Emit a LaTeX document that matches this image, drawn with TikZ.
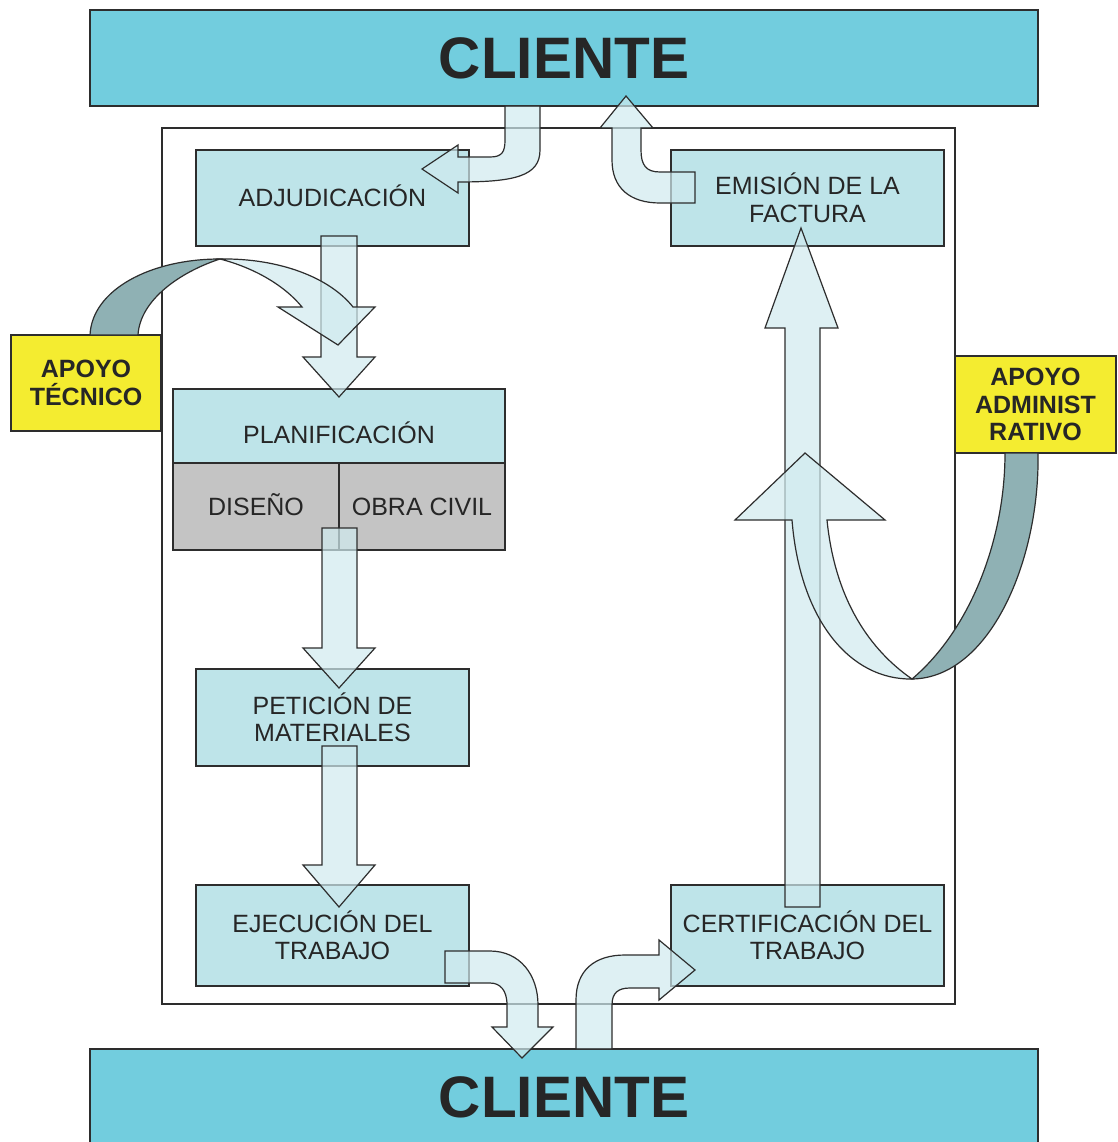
\documentclass[tikz,border=0pt]{standalone}
\usepackage{fontspec}
\setmainfont{Liberation Sans}
\definecolor{clientblue}{RGB}{114,205,222}
\definecolor{boxteal}{RGB}{190,228,233}
\definecolor{greybox}{RGB}{196,196,196}
\definecolor{yellowbox}{RGB}{244,236,48}
\definecolor{arrowfill}{RGB}{208,235,239}
\definecolor{ribbon}{RGB}{143,177,180}
\definecolor{edge}{RGB}{45,45,45}
\definecolor{ink}{RGB}{38,38,38}
\begin{document}
\begin{tikzpicture}[x=1pt,y=-1pt,
  outline/.style={draw=edge, line width=1.2pt},
  client/.style={outline, fill=clientblue, minimum width=948pt, minimum height=96pt, inner sep=0pt,
    text=ink, font=\fontsize{58.5}{62}\selectfont\bfseries, text height=41.9pt, text depth=0pt},
  stepbox/.style={outline, fill=boxteal, minimum width=273pt, inner sep=0pt, align=center,
    text=ink, font=\fontsize{25}{27.5}\selectfont},
  greycell/.style={outline, fill=greybox, minimum width=166pt, minimum height=87pt, inner sep=0pt,
    text=ink, font=\fontsize{25}{27.5}\selectfont, text height=17.9pt, text depth=0pt},
  supportbox/.style={outline, fill=yellowbox, inner sep=0pt, align=center,
    text=ink, font=\fontsize{25}{27.5}\selectfont\bfseries},
  blockarrow/.style={outline, fill=arrowfill, fill opacity=0.7},
  ribbonback/.style={outline, fill=ribbon},
  caption/.style={inner sep=0pt, text=ink, font=\fontsize{25}{27.5}\selectfont, text height=17.9pt, text depth=0pt}
]
\useasboundingbox (0,0) rectangle (1117,1142);

% client bars
\node[client] (clienttop) at (564,58) {CLIENTE};
\node[client] (clientbot) at (564,1097) {CLIENTE};

% process frame
\node[outline, fill=white, minimum width=793pt, minimum height=876pt, inner sep=0pt] (frame) at (558.5,566) {};

% process steps
\node[stepbox, minimum height=96pt, text height=17.9pt, text depth=0pt] (adj) at (332.5,198) {ADJUDICACIÓN};
\node[stepbox, minimum height=96pt] (emi) at (807.5,198) {EMISIÓN DE LA\\FACTURA};
\node[stepbox, minimum width=332pt, minimum height=74pt] (plan) at (339,426) {};
\node[caption] (plantext) at (339,435) {PLANIFICACIÓN};
\node[greycell] (dis) at (256,506.5) {DISEÑO};
\node[greycell] (obra) at (422,506.5) {OBRA CIVIL};
\node[stepbox, minimum height=97pt] (pet) at (332.5,717.5) {PETICIÓN DE\\MATERIALES};
\node[stepbox, minimum height=101pt] (eje) at (332.5,935.5) {EJECUCIÓN DEL\\TRABAJO};
\node[stepbox, minimum height=101pt] (cer) at (807.5,935.5) {CERTIFICACIÓN DEL\\TRABAJO};

% support boxes
\node[supportbox, minimum width=150pt, minimum height=96pt] (tec) at (86,383) {APOYO\\TÉCNICO};
\node[supportbox, minimum width=161pt, minimum height=97pt] (adm) at (1035.5,404.5) {APOYO\\ADMINIST\\RATIVO};

% client -> adjudicacion
\draw[blockarrow] (540,106) -- (540,150) .. controls (540,176) and (515,182) .. (458,182)
  -- (458,193) -- (422,169) -- (458,145) -- (458,157) -- (490,157)
  .. controls (502,157) and (505,152) .. (505,140) -- (505,106) -- cycle;

% emision -> client
\draw[blockarrow] (695,172) -- (660,172) .. controls (646,172) and (641,165) .. (641,150)
  -- (641,128) -- (653,128) -- (626,96) -- (600,128) -- (612,128) -- (612,160)
  .. controls (612,188) and (630,203) .. (660,203) -- (695,203) -- cycle;

% adjudicacion -> planificacion
\draw[blockarrow] (321,236) -- (357,236) -- (357,357) -- (375,357) -- (339,397) -- (303,357) -- (321,357) -- cycle;

% technical support ribbon
\draw[ribbonback] (90,335) .. controls (92,290) and (150,259) .. (220,259)
  .. controls (180,272) and (140,300) .. (138,335) -- cycle;
\draw[blockarrow] (220,259) .. controls (280,258) and (330,278) .. (353,307)
  -- (375,307) -- (338,345) -- (278,307) -- (302,307)
  .. controls (285,286) and (255,268) .. (220,259) -- cycle;

% planificacion -> peticion
\draw[blockarrow] (322,528) -- (357,528) -- (357,648) -- (375,648) -- (339,688) -- (303,648) -- (322,648) -- cycle;

% peticion -> ejecucion
\draw[blockarrow] (322,746) -- (357,746) -- (357,865) -- (375,865) -- (339,907) -- (303,865) -- (322,865) -- cycle;

% ejecucion -> client
\draw[blockarrow] (445,951) -- (490,951) .. controls (520,951) and (538,975) .. (538,1005)
  -- (538,1027) -- (553,1027) -- (522,1058) -- (492,1027) -- (507,1027) -- (507,1005)
  .. controls (507,990) and (500,983) .. (490,983) -- (445,983) -- cycle;

% client -> certificacion
\draw[blockarrow] (576,1049) -- (576,1000) .. controls (576,970) and (595,955) .. (625,955)
  -- (659,955) -- (659,940) -- (695,970) -- (659,1000) -- (659,988) -- (630,988)
  .. controls (618,988) and (612,993) .. (612,1005) -- (612,1049) -- cycle;

% certificacion -> emision
\draw[blockarrow] (785,907) -- (820,907) -- (820,328) -- (838,328) -- (801,228) -- (765,328) -- (785,328) -- cycle;

% administrative support ribbon
\draw[ribbonback] (1038,453) .. controls (1040,560) and (990,678) .. (912,679)
  .. controls (970,630) and (1005,540) .. (1005,453) -- cycle;
\draw[blockarrow] (912,679) .. controls (850,680) and (800,620) .. (792,520)
  -- (735,520) -- (805,453) -- (885,520) -- (827,520)
  .. controls (835,600) and (870,650) .. (912,679) -- cycle;
\end{tikzpicture}
\end{document}
